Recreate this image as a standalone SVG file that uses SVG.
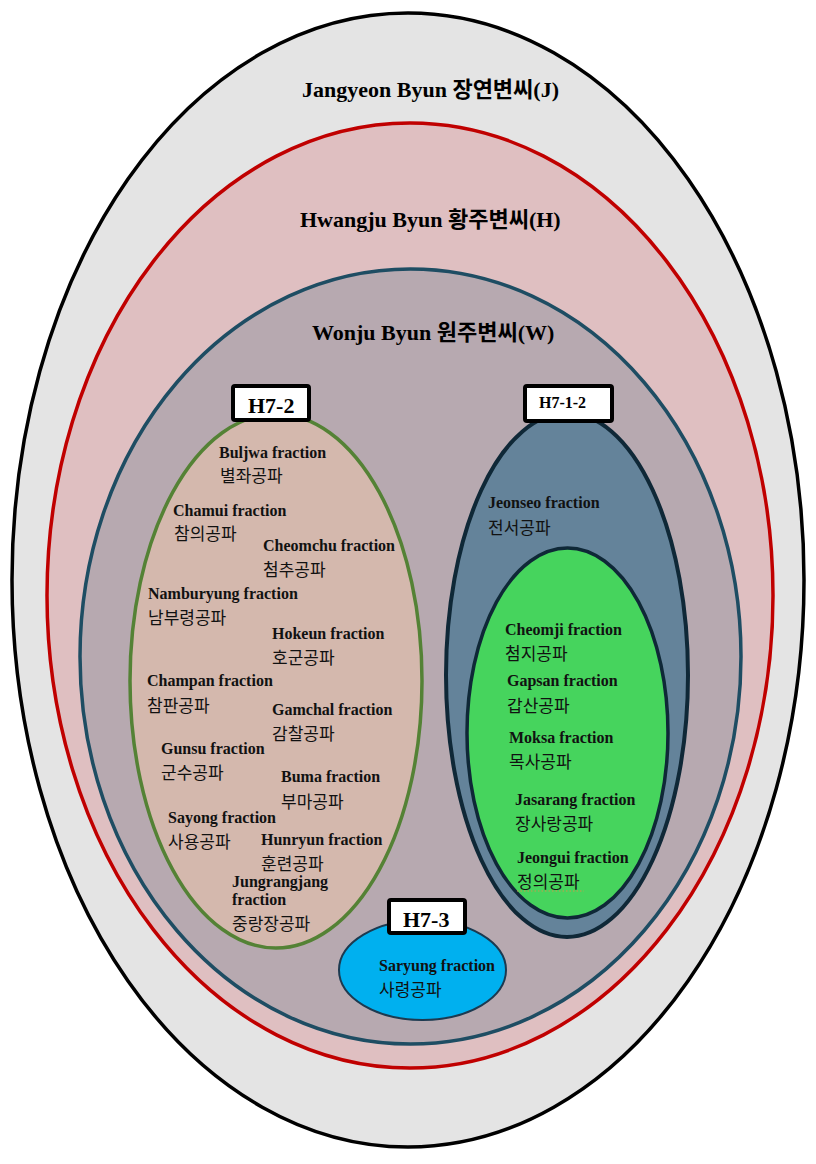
<svg xmlns="http://www.w3.org/2000/svg" width="816" height="1164" viewBox="0 0 816 1164">
  <style>
    .title { font-size: 22px; font-weight: bold; fill: #000; }
    .lat { font-family: "Liberation Serif", "Times New Roman", serif; }
    .kr { font-family: "Noto Sans CJK KR", "Noto Sans", sans-serif; }
    .fl { font-family: "Liberation Serif", "Times New Roman", serif; font-size: 16px; font-weight: bold; fill: #111; }
    .fk { font-family: "Noto Sans CJK KR", "Noto Sans", sans-serif; font-size: 17px; font-weight: 400; fill: #111; }
    .box { fill: #fff; stroke: #000; stroke-width: 4; }
    .boxt { font-family: "Liberation Serif", "Times New Roman", serif; font-weight: bold; fill: #000; }
  </style>
  <rect width="816" height="1164" fill="#fff"/>

  <g id="jangyeon">
    <ellipse cx="408" cy="580" rx="396" ry="567" fill="#e4e4e4" stroke="#000" stroke-width="3.5"/>
    <text class="title" x="302" y="97"><tspan class="lat">Jangyeon Byun </tspan><tspan class="kr">장연변씨</tspan><tspan class="lat">(J)</tspan></text>
  </g>

  <g id="hwangju">
    <ellipse cx="410" cy="595.5" rx="363" ry="472.5" fill="#dfbfc1" stroke="#c00000" stroke-width="3.5"/>
    <text class="title" x="300" y="227"><tspan class="lat">Hwangju Byun </tspan><tspan class="kr">황주변씨</tspan><tspan class="lat">(H)</tspan></text>
  </g>

  <g id="wonju">
    <ellipse cx="410.5" cy="656.5" rx="330.5" ry="387.5" fill="#b7a9b0" stroke="#1e4d63" stroke-width="3.5"/>
    <text class="title" x="312" y="340"><tspan class="lat">Wonju Byun </tspan><tspan class="kr">원주변씨</tspan><tspan class="lat">(W)</tspan></text>
  </g>

  <g id="h7-2">
    <ellipse cx="276" cy="681" rx="146" ry="267" fill="#d4b8ad" stroke="#548235" stroke-width="3.5"/>
    <rect class="box" x="233" y="386" width="76" height="34" rx="2"/>
    <text class="boxt" x="248" y="413" font-size="22">H7-2</text>
    <text class="fl" x="219" y="458">Buljwa fraction</text>
    <text class="fk" x="220" y="482">별좌공파</text>
    <text class="fl" x="173" y="516">Chamui fraction</text>
    <text class="fk" x="174" y="540">참의공파</text>
    <text class="fl" x="263" y="551">Cheomchu fraction</text>
    <text class="fk" x="263" y="576">첨추공파</text>
    <text class="fl" x="148" y="599">Namburyung fraction</text>
    <text class="fk" x="148" y="624">남부령공파</text>
    <text class="fl" x="272" y="639">Hokeun fraction</text>
    <text class="fk" x="272" y="664">호군공파</text>
    <text class="fl" x="147" y="686">Champan fraction</text>
    <text class="fk" x="147" y="712">참판공파</text>
    <text class="fl" x="272" y="715">Gamchal fraction</text>
    <text class="fk" x="272" y="740">감찰공파</text>
    <text class="fl" x="161" y="754">Gunsu fraction</text>
    <text class="fk" x="161" y="779">군수공파</text>
    <text class="fl" x="281" y="782">Buma fraction</text>
    <text class="fk" x="281" y="808">부마공파</text>
    <text class="fl" x="168" y="823">Sayong fraction</text>
    <text class="fk" x="168" y="848">사용공파</text>
    <text class="fl" x="261" y="845">Hunryun fraction</text>
    <text class="fk" x="261" y="870">훈련공파</text>
    <text class="fl" x="232" y="887">Jungrangjang</text>
    <text class="fl" x="232" y="905">fraction</text>
    <text class="fk" x="232" y="930">중랑장공파</text>
  </g>

  <g id="h7-1-2">
    <ellipse cx="567" cy="675" rx="121" ry="262" fill="#64839a" stroke="#0f2837" stroke-width="4"/>
    <rect class="box" x="525" y="386" width="87" height="35" rx="2"/>
    <text class="boxt" x="539" y="408" font-size="16">H7-1-2</text>
    <text class="fl" x="488" y="508">Jeonseo fraction</text>
    <text class="fk" x="488" y="534">전서공파</text>
  </g>

  <g id="h7-1-2-inner">
    <ellipse cx="567.5" cy="733" rx="100.5" ry="185" fill="#46d45d" stroke="#0f2837" stroke-width="3.5"/>
    <text class="fl" x="505" y="635">Cheomji fraction</text>
    <text class="fk" x="505" y="660">첨지공파</text>
    <text class="fl" x="507" y="686">Gapsan fraction</text>
    <text class="fk" x="507" y="712">갑산공파</text>
    <text class="fl" x="509" y="743">Moksa fraction</text>
    <text class="fk" x="509" y="768">목사공파</text>
    <text class="fl" x="515" y="805">Jasarang fraction</text>
    <text class="fk" x="515" y="830">장사랑공파</text>
    <text class="fl" x="517" y="863">Jeongui fraction</text>
    <text class="fk" x="517" y="888">정의공파</text>
    <line x1="517" y1="891" x2="584" y2="891" stroke="#c89a4a" stroke-width="1" stroke-dasharray="1.5 2"/>
  </g>

  <g id="h7-3">
    <ellipse cx="422.5" cy="970" rx="83.5" ry="50" fill="#00b0ef" stroke="#1c3a50" stroke-width="2"/>
    <rect class="box" x="389" y="900" width="76" height="33" rx="2"/>
    <text class="boxt" x="403" y="927" font-size="22">H7-3</text>
    <text class="fl" x="379" y="971">Saryung fraction</text>
    <text class="fk" x="379" y="996">사령공파</text>
  </g>

  <g id="connectors"/>
</svg>
